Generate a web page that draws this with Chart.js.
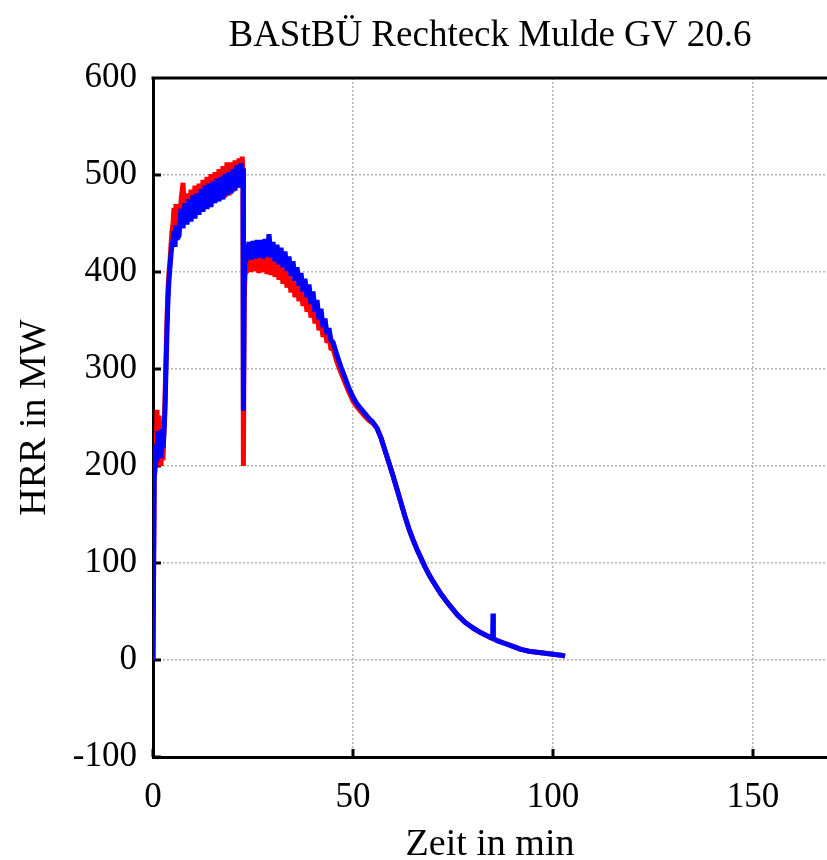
<!DOCTYPE html>
<html lang="de">
<head>
<meta charset="utf-8">
<title>BAStBÜ Rechteck Mulde GV 20.6</title>
<script src="https://cdn.jsdelivr.net/npm/chart.js@4"></script>
<style>
    body { margin: 0; background: #fff; }
    canvas { display: block; }
</style>
</head>
<body>
<canvas id="hrrChart" width="827" height="860"></canvas>
<script>
// Zeit in min (gemeinsam für beide Messreihen)
const zeit = [
    0, 0.3, 0.5, 0.75, 1, 1.25, 1.5, 1.75, 2, 2.25, 2.5, 2.75, 3, 3.25, 3.5, 3.75, 4, 4.25, 4.5, 4.75, 5, 5.25, 5.5, 5.75, 6,
    6.5, 7, 7.5, 8, 8.5, 9, 9.5, 10, 10.5, 11, 11.5, 12, 12.5, 13, 13.5, 14, 14.5, 15, 15.5, 16, 16.5, 17, 17.5, 18, 18.5, 19, 19.5, 20, 20.5, 21, 21.5, 22,
    22.3, 22.5, 22.6, 22.8, 23,
    23.5, 24, 24.5, 25, 25.5, 26, 26.5, 27, 27.5, 28, 28.5, 29, 29.5, 30, 30.5, 31, 31.5, 32, 32.5, 33, 33.5, 34, 34.5, 35, 35.5, 36, 36.5, 37, 37.5, 38, 38.5, 39, 39.5, 40, 40.5, 41, 41.5, 42, 42.5, 43, 43.5, 44, 44.5, 45,
    46, 47, 48, 49, 50, 51, 52, 53, 54, 55, 56, 57, 58, 59, 60, 61, 62, 63, 64, 65, 66, 67, 68, 69, 70, 72, 74, 76, 78, 80, 82, 84, 84.9, 85, 85.1, 86, 88, 90, 92, 94, 96, 98, 100, 102, 103
];

// HRR in MW, blaue Kurve
const hrrBlau = [
    0, 188, 196, 222, 205, 236, 212, 230, 208, 238, 218, 235, 258, 300, 340, 372, 392, 405, 418, 428, 432, 442, 426, 448, 434,
    437, 465, 445, 471, 449, 475, 452, 479, 455, 481, 459, 485, 462, 489, 465, 491, 467, 493, 471, 496, 473, 498, 475, 501, 479, 503, 481, 506, 484, 510, 487, 512,
    494, 507, 257, 385, 410,
    415, 431, 413, 432, 414, 433, 415, 433, 414, 434, 416, 439, 415, 431, 411, 428, 408, 425, 405, 421, 401, 416, 396, 411, 391, 405, 386, 399, 380, 393, 374, 387, 367, 380, 359, 371, 351, 362, 343, 352, 336, 342, 329, 328,
    314, 302, 291, 280, 271, 264, 259, 254, 249, 245, 239, 229, 216, 203, 190, 176, 162, 148, 135, 124, 114, 105, 96, 88, 81, 68, 57, 47, 39, 33, 28, 24, 22, 48, 22, 20, 17, 14, 11, 9, 8, 7, 6, 5, 4
];

// HRR in MW, rote Kurve
const hrrRot = [
    0, 192, 215, 200, 258, 210, 252, 205, 200, 228, 206, 240, 268, 312, 352, 382, 400, 412, 428, 442, 450, 466, 444, 470, 450,
    447, 473, 492, 452, 481, 455, 485, 459, 489, 461, 491, 463, 495, 465, 498, 467, 501, 471, 503, 473, 506, 475, 509, 477, 513, 479, 513, 483, 515, 487, 517, 491,
    519, 500, 200, 370, 398,
    401, 417, 400, 419, 401, 418, 399, 419, 400, 417, 398, 416, 397, 414, 395, 411, 392, 407, 388, 403, 384, 398, 379, 393, 374, 388, 370, 383, 365, 377, 359, 371, 353, 365, 347, 358, 340, 350, 333, 343, 327, 334, 320, 321,
    307, 296, 286, 276, 267, 261, 256, 251, 247, 244, 239, 229, 216, 203, 190, 176, 162, 148, 135, 124, 114, 105, 96, 88, 81, 68, 57, 47, 39, 33, 28, 24, 22, 22, 22, 20, 17, 14, 11, 9, 8, 7, 6, 5, 4
];

const xTicks = [0, 50, 100, 150];
const yTicks = [-100, 0, 100, 200, 300, 400, 500, 600];

const schrift = "'Liberation Serif', 'DejaVu Serif', serif";

function punkte(werte) {
    return zeit.map((t, i) => ({ x: t, y: werte[i] }));
}

// Rahmen oben und Ticks nach innen
const rahmen = {
    id: 'rahmen',
    beforeDatasetsDraw(chart) {
        const { ctx, chartArea: a, scales: { x, y } } = chart;
        ctx.save();
        ctx.strokeStyle = '#000';
        ctx.lineWidth = 3;
        ctx.beginPath();
        ctx.moveTo(a.left - 1.5, a.top);
        ctx.lineTo(a.right, a.top);
        y.ticks.forEach(t => {
            const py = y.getPixelForValue(t.value);
            ctx.moveTo(a.left, py);
            ctx.lineTo(a.left + 8, py);
        });
        x.ticks.forEach(t => {
            const px = x.getPixelForValue(t.value);
            ctx.moveTo(px, a.bottom);
            ctx.lineTo(px, a.bottom - 8);
        });
        ctx.stroke();
        ctx.restore();
    }
};

const linie = { borderWidth: 5, borderJoinStyle: 'bevel', pointRadius: 0, tension: 0 };

new Chart(document.getElementById('hrrChart'), {
    type: 'line',
    data: {
        datasets: [
            { ...linie, data: punkte(hrrBlau), borderColor: '#0000ff', order: 1 },
            { ...linie, data: punkte(hrrRot), borderColor: '#ff0000', order: 2 }
        ]
    },
    options: {
        responsive: false,
        animation: false,
        layout: { padding: 0 },
        plugins: {
            legend: { display: false },
            tooltip: { enabled: false },
            title: {
                display: true,
                text: 'BAStBÜ Rechteck Mulde GV 20.6',
                fullSize: false,
                color: '#000',
                font: { family: schrift, size: 37, weight: 'normal', lineHeight: 1.2 },
                padding: { top: 14, bottom: 19.6 }
            }
        },
        scales: {
            x: {
                type: 'linear',
                min: 0,
                max: 168.5,
                afterFit: s => { s.height = 103; },
                afterBuildTicks: s => { s.ticks = xTicks.map(v => ({ value: v })); },
                ticks: { includeBounds: false, color: '#000', padding: 20, font: { family: schrift, size: 35 } },
                grid: { color: '#b4b4b4', lineWidth: 1.5, drawTicks: false },
                border: { display: true, color: '#000', width: 3, dash: [2, 2] },
                title: {
                    display: true,
                    text: 'Zeit in min',
                    color: '#000',
                    font: { family: schrift, size: 38, lineHeight: 0.8 },
                    padding: 0
                }
            },
            y: {
                type: 'linear',
                min: -100,
                max: 600,
                afterFit: s => { s.width = 153; },
                afterBuildTicks: s => { s.ticks = yTicks.map(v => ({ value: v })); },
                ticks: { color: '#000', padding: 16, font: { family: schrift, size: 35 } },
                grid: { color: '#b4b4b4', lineWidth: 1.5, drawTicks: false },
                border: { display: true, color: '#000', width: 3, dash: [2, 2] },
                title: {
                    display: true,
                    text: 'HRR in MW',
                    color: '#000',
                    font: { family: schrift, size: 38, lineHeight: 1 },
                    padding: { top: 16, bottom: 0 }
                }
            }
        }
    },
    plugins: [rahmen]
});
</script>
</body>
</html>
